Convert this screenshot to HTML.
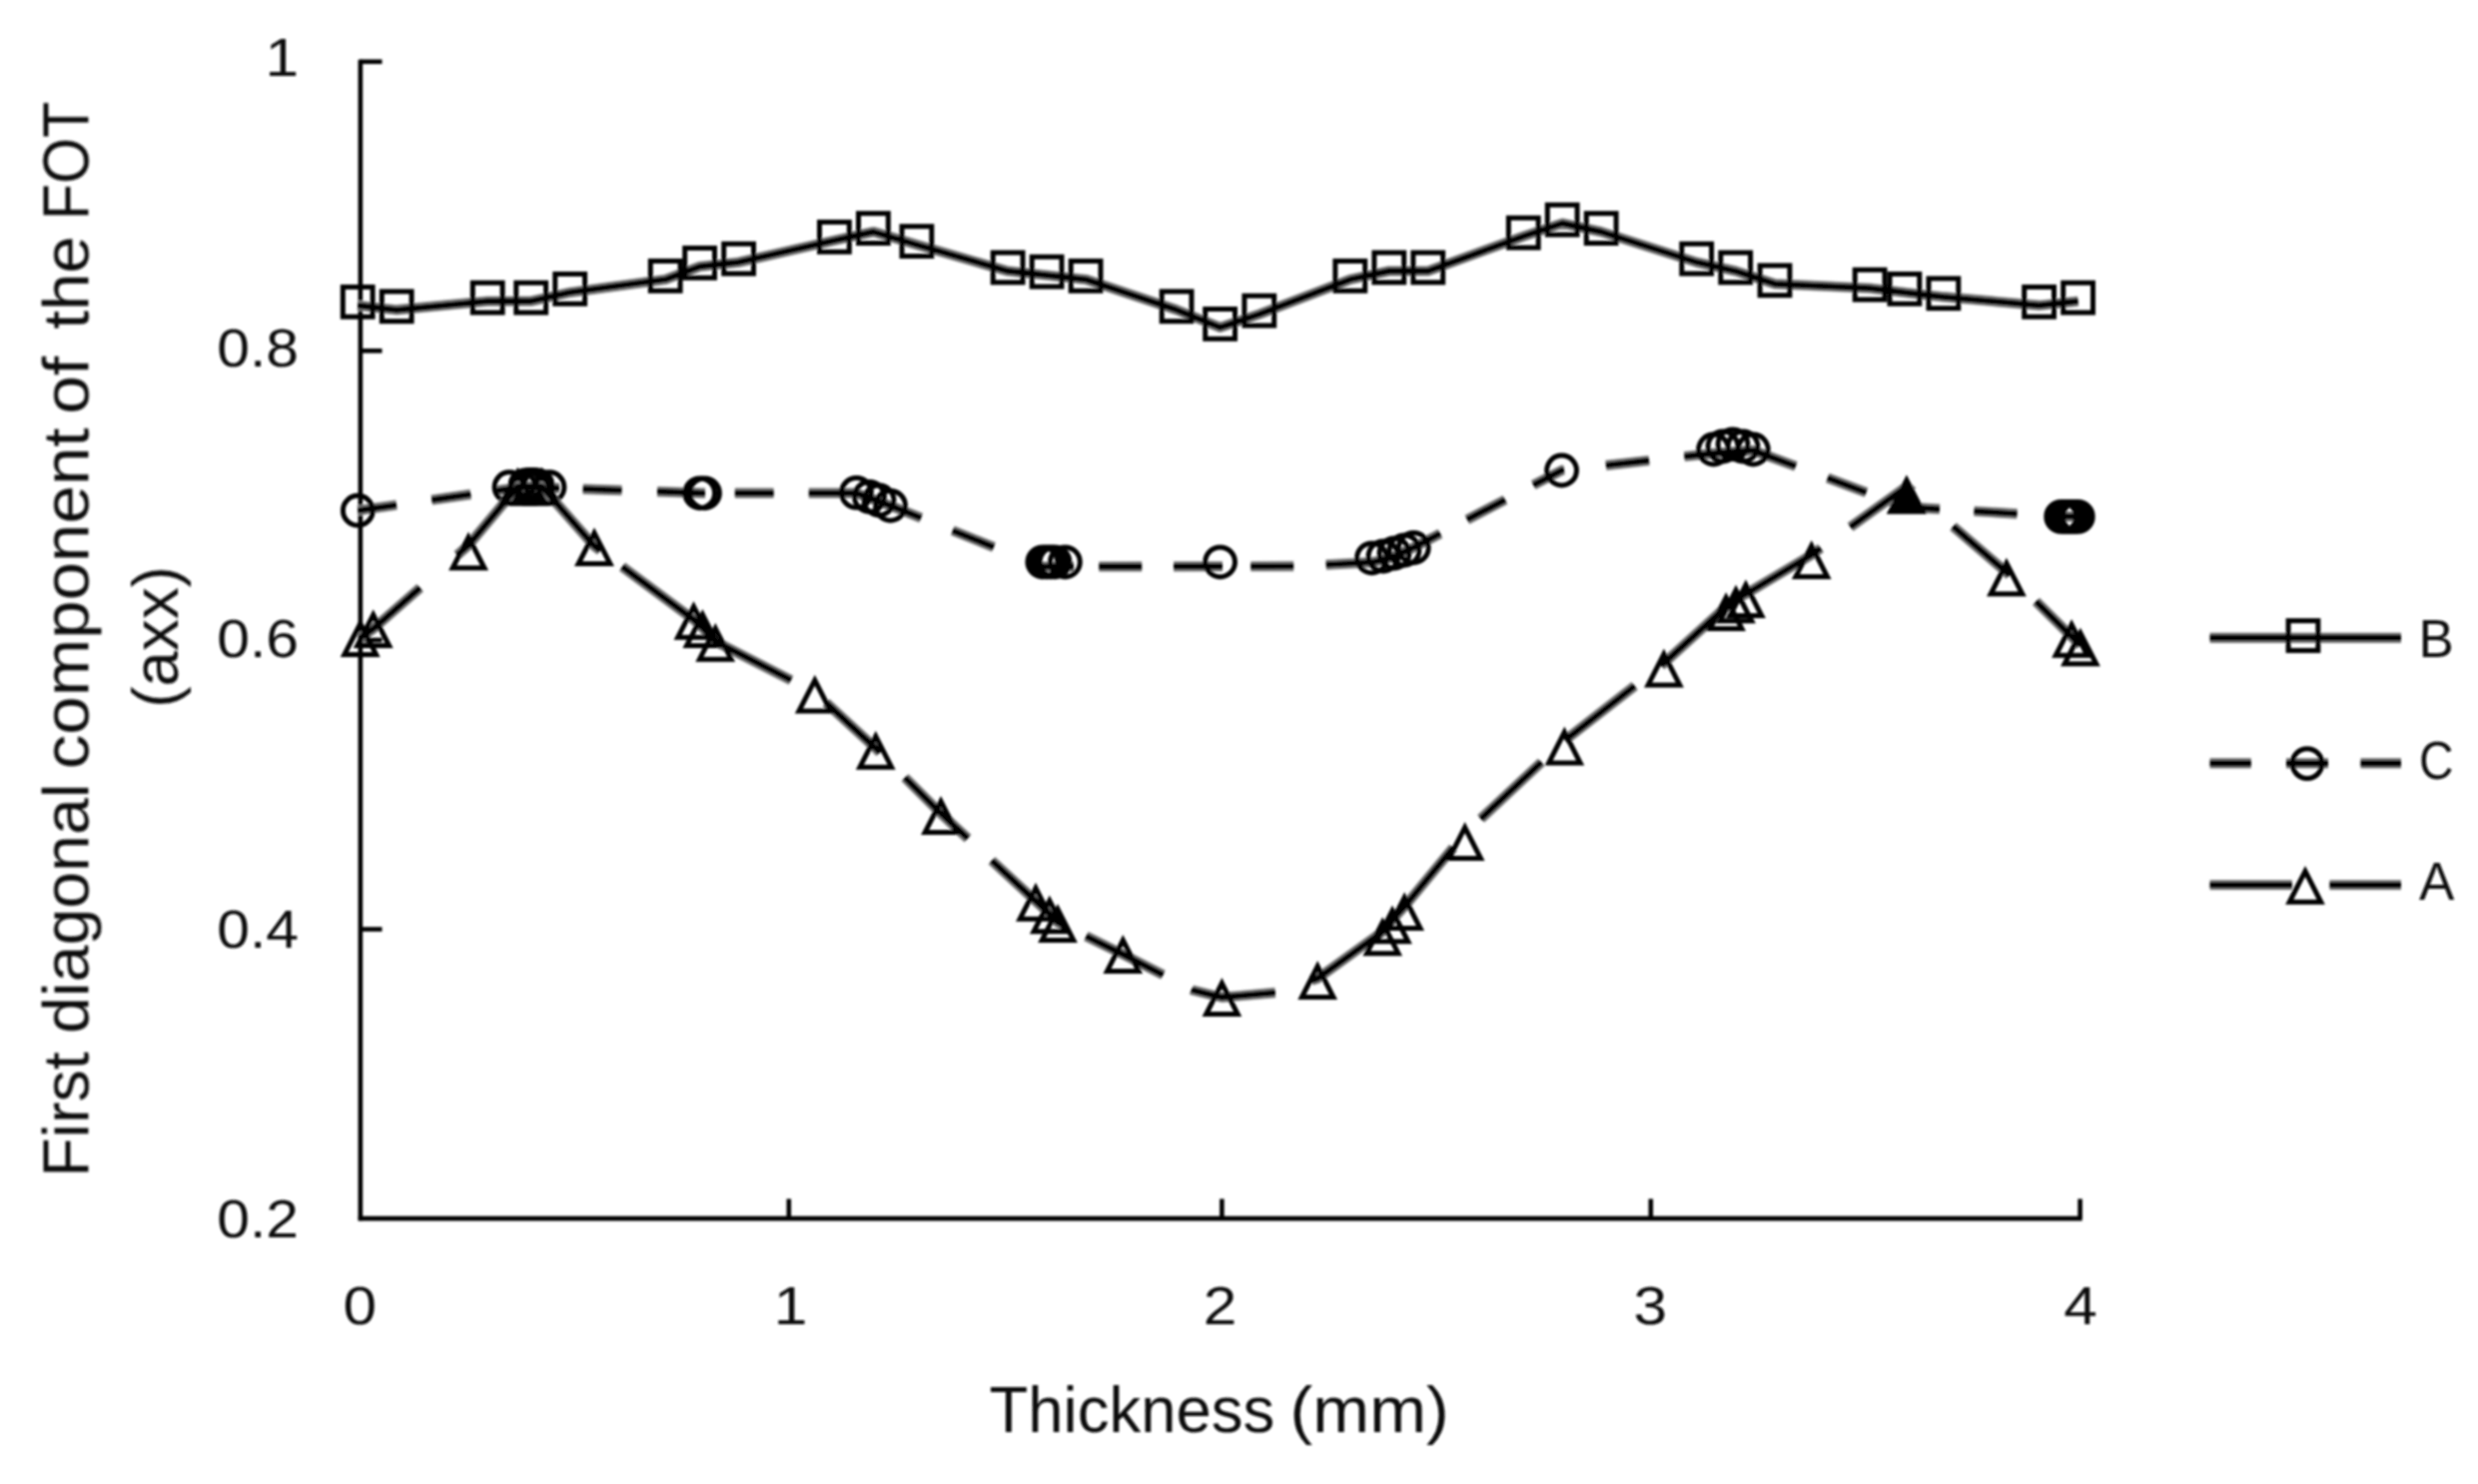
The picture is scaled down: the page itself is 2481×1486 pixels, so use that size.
<!DOCTYPE html>
<html lang="en">
<head>
<meta charset="utf-8">
<title>First diagonal component of the FOT vs thickness</title>
<style>
html,body{margin:0;padding:0;background:#fff;}
body{width:2481px;height:1486px;overflow:hidden;}
svg{display:block;}
</style>
</head>
<body>
<svg width="2481" height="1486" viewBox="0 0 2481 1486">
<defs><filter id="soft" filterUnits="userSpaceOnUse" x="0" y="0" width="2481" height="1486"><feGaussianBlur stdDeviation="0.9"/></filter></defs>
<rect width="2481" height="1486" fill="#fff"/>
<g filter="url(#soft)">
<g stroke="#000" stroke-width="4.6" fill="none" stroke-linecap="butt">
<path d="M360.85 59.65 V1222.2"/>
<path d="M358.75 1220.1 H2084.7"/>
<path d="M360 61.75 H382.5"/>
<path d="M360 351.3 H382.5"/>
<path d="M360 640.9 H382.5"/>
<path d="M360 930.5 H382.5"/>
<path d="M789.8 1200.5 V1220"/>
<path d="M1223.4 1200.5 V1220"/>
<path d="M1652.8 1200.5 V1220"/>
<path d="M2082.6 1200.5 V1220"/>
</g>
<g stroke="#000" fill="none">
<path stroke="#808080" stroke-width="10.4" stroke-linejoin="round" d="M358.2 305.8 L397.2 310.3 L488.2 301.6 L531.7 301.6 L570.7 292.8 L666.2 279.8 L700.6 266.8 L739.6 262.6 L835.4 240.8 L874.4 232.1 L917.9 245.1 L1009.1 271.4 L1048.1 275.6 L1087.1 279.8 L1178.1 310.3 L1221.6 327.9 L1260.8 314.6 L1351.8 279.8 L1390.8 271.4 L1429.8 271.4 L1525.3 236.6 L1564.2 223.6 L1603.2 232.1 L1698.7 262.6 L1737.7 271.4 L1777 284.3 L1872.1 288.6 L1906.9 292.8 L1945.9 297.3 L2041.6 305.8 L2080.6 301.6"/><path stroke="#000" stroke-width="6.2" stroke-linejoin="round" d="M358.2 305.8 L397.2 310.3 L488.2 301.6 L531.7 301.6 L570.7 292.8 L666.2 279.8 L700.6 266.8 L739.6 262.6 L835.4 240.8 L874.4 232.1 L917.9 245.1 L1009.1 271.4 L1048.1 275.6 L1087.1 279.8 L1178.1 310.3 L1221.6 327.9 L1260.8 314.6 L1351.8 279.8 L1390.8 271.4 L1429.8 271.4 L1525.3 236.6 L1564.2 223.6 L1603.2 232.1 L1698.7 262.6 L1737.7 271.4 L1777 284.3 L1872.1 288.6 L1906.9 292.8 L1945.9 297.3 L2041.6 305.8 L2080.6 301.6"/>
<g stroke-width="5.0"><rect x="343.3" y="287.4" width="29.8" height="29.8"/><rect x="382.3" y="291.9" width="29.8" height="29.8"/><rect x="473.3" y="283.2" width="29.8" height="29.8"/><rect x="516.8" y="283.2" width="29.8" height="29.8"/><rect x="555.8" y="274.4" width="29.8" height="29.8"/><rect x="651.3" y="261.4" width="29.8" height="29.8"/><rect x="685.7" y="248.4" width="29.8" height="29.8"/><rect x="724.7" y="244.2" width="29.8" height="29.8"/><rect x="820.5" y="222.4" width="29.8" height="29.8"/><rect x="859.5" y="213.7" width="29.8" height="29.8"/><rect x="903.0" y="226.7" width="29.8" height="29.8"/><rect x="994.2" y="253.0" width="29.8" height="29.8"/><rect x="1033.2" y="257.2" width="29.8" height="29.8"/><rect x="1072.2" y="261.4" width="29.8" height="29.8"/><rect x="1163.2" y="291.9" width="29.8" height="29.8"/><rect x="1206.7" y="309.5" width="29.8" height="29.8"/><rect x="1245.9" y="296.2" width="29.8" height="29.8"/><rect x="1336.9" y="261.4" width="29.8" height="29.8"/><rect x="1375.9" y="253.0" width="29.8" height="29.8"/><rect x="1414.9" y="253.0" width="29.8" height="29.8"/><rect x="1510.4" y="218.2" width="29.8" height="29.8"/><rect x="1549.3" y="205.2" width="29.8" height="29.8"/><rect x="1588.3" y="213.7" width="29.8" height="29.8"/><rect x="1683.8" y="244.2" width="29.8" height="29.8"/><rect x="1722.8" y="253.0" width="29.8" height="29.8"/><rect x="1762.1" y="265.9" width="29.8" height="29.8"/><rect x="1857.2" y="270.2" width="29.8" height="29.8"/><rect x="1892.0" y="274.4" width="29.8" height="29.8"/><rect x="1931.0" y="278.9" width="29.8" height="29.8"/><rect x="2026.7" y="287.4" width="29.8" height="29.8"/><rect x="2065.7" y="283.2" width="29.8" height="29.8"/></g>
</g>
<g stroke="#000" fill="none">
<path stroke="#808080" stroke-width="10.4" stroke-linejoin="round" d="M358.3 511.2 L397.0 505.7 M432.3 500.6 L471.3 495.0 M498.0 491.2 L510.0 489.5 L550.0 488.5 L560.0 488.8 M583.7 489.7 L622.5 491.0 M658.1 492.2 L703.0 493.8 L706.0 493.8 M735.8 493.8 L774.6 493.8 M809.8 493.8 L857.5 493.8 L891.5 506.3 L922.2 518.6 M953.8 531.3 L995.0 547.9 M1030.0 562.0 L1043.8 567.5 L1075.0 567.4 M1100.3 567.4 L1143.2 567.3 M1175.1 567.2 L1224.0 567.1 M1252.3 567.1 L1295.2 567.0 M1327.7 565.5 L1374.3 563.0 L1393.0 558.5 L1415.3 548.2 L1442.0 534.3 M1468.9 520.3 L1507.0 500.5 M1535.3 485.7 L1563.6 471.0 L1566.0 470.7 M1607.9 466.0 L1651.1 461.2 M1686.4 457.2 L1715.4 454.0 L1754.9 451.0 L1797.9 466.9 M1829.8 478.7 L1868.5 493.1 M1889.0 500.7 L1908.0 507.7 L1942.0 509.8 M1976.5 511.9 L2019.5 514.5 M2050.0 516.4 L2062.8 517.2 L2081.2 517.2"/><path stroke="#000" stroke-width="6.2" stroke-linejoin="round" d="M358.3 511.2 L397.0 505.7 M432.3 500.6 L471.3 495.0 M498.0 491.2 L510.0 489.5 L550.0 488.5 L560.0 488.8 M583.7 489.7 L622.5 491.0 M658.1 492.2 L703.0 493.8 L706.0 493.8 M735.8 493.8 L774.6 493.8 M809.8 493.8 L857.5 493.8 L891.5 506.3 L922.2 518.6 M953.8 531.3 L995.0 547.9 M1030.0 562.0 L1043.8 567.5 L1075.0 567.4 M1100.3 567.4 L1143.2 567.3 M1175.1 567.2 L1224.0 567.1 M1252.3 567.1 L1295.2 567.0 M1327.7 565.5 L1374.3 563.0 L1393.0 558.5 L1415.3 548.2 L1442.0 534.3 M1468.9 520.3 L1507.0 500.5 M1535.3 485.7 L1563.6 471.0 L1566.0 470.7 M1607.9 466.0 L1651.1 461.2 M1686.4 457.2 L1715.4 454.0 L1754.9 451.0 L1797.9 466.9 M1829.8 478.7 L1868.5 493.1 M1889.0 500.7 L1908.0 507.7 L1942.0 509.8 M1976.5 511.9 L2019.5 514.5 M2050.0 516.4 L2062.8 517.2 L2081.2 517.2"/>
<g stroke-width="5.0"><circle cx="358.3" cy="511.2" r="14.9"/><circle cx="510.0" cy="487.7" r="14.9"/><circle cx="526.0" cy="485.8" r="14.9"/><circle cx="530.0" cy="485.5" r="14.9"/><circle cx="534.0" cy="485.5" r="14.9"/><circle cx="538.0" cy="485.8" r="14.9"/><circle cx="550.0" cy="487.7" r="14.9"/><circle cx="700.7" cy="493.8" r="14.9"/><circle cx="705.5" cy="493.8" r="14.9"/><circle cx="857.5" cy="493.4" r="14.9"/><circle cx="870.5" cy="497.4" r="14.9"/><circle cx="880.0" cy="501.0" r="14.9"/><circle cx="891.5" cy="506.3" r="14.9"/><circle cx="1043.8" cy="562.8" r="14.9"/><circle cx="1048.0" cy="562.8" r="14.9"/><circle cx="1052.0" cy="562.8" r="14.9"/><circle cx="1056.0" cy="562.8" r="14.9"/><circle cx="1066.4" cy="562.8" r="14.9"/><circle cx="1221.6" cy="562.8" r="14.9"/><circle cx="1373.5" cy="558.8" r="14.9"/><circle cx="1385.0" cy="557.0" r="14.9"/><circle cx="1396.0" cy="554.0" r="14.9"/><circle cx="1406.0" cy="551.0" r="14.9"/><circle cx="1415.3" cy="548.5" r="14.9"/><circle cx="1563.6" cy="471.0" r="14.9"/><circle cx="1715.6" cy="450.0" r="14.9"/><circle cx="1725.0" cy="447.0" r="14.9"/><circle cx="1735.0" cy="444.8" r="14.9"/><circle cx="1745.0" cy="447.0" r="14.9"/><circle cx="1755.3" cy="450.0" r="14.9"/><circle cx="2063.7" cy="517.4" r="14.9"/><circle cx="2068.0" cy="517.4" r="14.9"/><circle cx="2072.0" cy="517.4" r="14.9"/><circle cx="2076.0" cy="517.4" r="14.9"/><circle cx="2080.3" cy="517.4" r="14.9"/></g>
</g>
<g stroke="#000" fill="none">
<path stroke="#808080" stroke-width="10.4" stroke-linejoin="round" d="M360.7 638.6 L373.7 629.7 L420.6 588.6 M457.8 555.9 L469.1 546.0 L518.2 487.3 L530.0 487.3 L542.5 487.3 L595.0 546.8 L601.0 551.2 M623.0 567.5 L694.5 620.5 L703.4 628.6 L716.3 642.4 L792.0 681.1 M827.0 703.6 L876.8 749.4 L881.0 753.6 M906.0 778.6 L942.0 814.6 L969.0 839.6 M993.0 861.7 L1037.0 902.4 L1050.8 915.0 L1059.0 923.6 L1064.0 926.1 M1087.4 937.5 L1124.3 955.6 L1164.5 976.2 M1193.0 990.8 L1195.0 991.8 L1223.4 998.7 L1276.8 994.0 M1313.0 981.8 L1319.2 979.7 L1384.2 932.9 L1394.0 921.0 L1406.2 907.8 L1455.0 848.8 M1482.6 819.9 L1543.3 763.2 M1567.0 741.2 L1636.7 686.9 M1663.0 666.4 L1665.9 664.1 L1728.1 607.6 L1738.0 600.0 L1747.9 594.8 L1813.7 555.6 L1823.0 548.9 M1852.6 527.7 L1908.9 487.3 L1915.0 492.5 M1955.5 527.2 L2008.9 573.0 L2012.0 576.1 M2038.5 602.3 L2074.1 637.5 L2082.9 646.0"/><path stroke="#000" stroke-width="6.2" stroke-linejoin="round" d="M360.7 638.6 L373.7 629.7 L420.6 588.6 M457.8 555.9 L469.1 546.0 L518.2 487.3 L530.0 487.3 L542.5 487.3 L595.0 546.8 L601.0 551.2 M623.0 567.5 L694.5 620.5 L703.4 628.6 L716.3 642.4 L792.0 681.1 M827.0 703.6 L876.8 749.4 L881.0 753.6 M906.0 778.6 L942.0 814.6 L969.0 839.6 M993.0 861.7 L1037.0 902.4 L1050.8 915.0 L1059.0 923.6 L1064.0 926.1 M1087.4 937.5 L1124.3 955.6 L1164.5 976.2 M1193.0 990.8 L1195.0 991.8 L1223.4 998.7 L1276.8 994.0 M1313.0 981.8 L1319.2 979.7 L1384.2 932.9 L1394.0 921.0 L1406.2 907.8 L1455.0 848.8 M1482.6 819.9 L1543.3 763.2 M1567.0 741.2 L1636.7 686.9 M1663.0 666.4 L1665.9 664.1 L1728.1 607.6 L1738.0 600.0 L1747.9 594.8 L1813.7 555.6 L1823.0 548.9 M1852.6 527.7 L1908.9 487.3 L1915.0 492.5 M1955.5 527.2 L2008.9 573.0 L2012.0 576.1 M2038.5 602.3 L2074.1 637.5 L2082.9 646.0"/>
<g stroke-width="5.0" stroke-linejoin="miter"><path d="M360.7 624.5 L376.6 655.4 L344.8 655.4 Z"/><path d="M373.7 615.6 L389.6 646.5 L357.8 646.5 Z"/><path d="M469.1 537.9 L485.0 568.8 L453.2 568.8 Z"/><path d="M518.2 473.2 L534.1 504.1 L502.4 504.1 Z"/><path d="M530.0 473.2 L545.9 504.1 L514.1 504.1 Z"/><path d="M542.5 473.2 L558.4 504.1 L526.6 504.1 Z"/><path d="M595.0 533.7 L610.9 564.6 L579.1 564.6 Z"/><path d="M694.5 607.4 L710.4 638.3 L678.6 638.3 Z"/><path d="M703.4 615.5 L719.2 646.4 L687.5 646.4 Z"/><path d="M716.3 629.3 L732.1 660.2 L700.4 660.2 Z"/><path d="M815.8 681.2 L831.6 712.1 L799.9 712.1 Z"/><path d="M876.8 737.3 L892.6 768.2 L860.9 768.2 Z"/><path d="M942.0 802.5 L957.9 833.4 L926.1 833.4 Z"/><path d="M1037.0 889.3 L1052.8 920.2 L1021.1 920.2 Z"/><path d="M1050.8 901.9 L1066.6 932.8 L1035.0 932.8 Z"/><path d="M1059.0 910.5 L1074.8 941.4 L1043.2 941.4 Z"/><path d="M1124.3 941.5 L1140.1 972.4 L1108.5 972.4 Z"/><path d="M1223.4 984.6 L1239.2 1015.5 L1207.6 1015.5 Z"/><path d="M1319.2 967.6 L1335.0 998.5 L1303.4 998.5 Z"/><path d="M1384.2 923.8 L1400.0 954.7 L1368.4 954.7 Z"/><path d="M1394.0 911.9 L1409.8 942.8 L1378.2 942.8 Z"/><path d="M1406.2 898.7 L1422.0 929.6 L1390.4 929.6 Z"/><path d="M1466.7 828.6 L1482.5 859.5 L1450.9 859.5 Z"/><path d="M1566.4 733.1 L1582.2 764.0 L1550.6 764.0 Z"/><path d="M1665.9 655.0 L1681.8 685.9 L1650.1 685.9 Z"/><path d="M1728.1 598.5 L1743.9 629.4 L1712.2 629.4 Z"/><path d="M1738.0 590.9 L1753.8 621.8 L1722.2 621.8 Z"/><path d="M1747.9 585.7 L1763.8 616.6 L1732.1 616.6 Z"/><path d="M1813.7 546.5 L1829.5 577.4 L1797.9 577.4 Z"/><path d="M1908.9 481.2 L1924.8 512.1 L1893.1 512.1 Z"/><path d="M2008.9 563.9 L2024.8 594.8 L1993.1 594.8 Z"/><path d="M2074.1 625.4 L2089.9 656.3 L2058.2 656.3 Z"/><path d="M2082.9 633.9 L2098.8 664.8 L2067.1 664.8 Z"/><g fill="#000"><path d="M1908.9 481.2 L1924.8 512.1 L1893.1 512.1 Z"/></g></g>
</g>
<g stroke="#000" fill="none">
<path stroke="#808080" stroke-width="10.4"  d="M2212.6 638.7 H2404"/><path stroke="#000" stroke-width="6.2"  d="M2212.6 638.7 H2404"/>
<g stroke-width="5.0"><rect x="2291.1" y="621.6" width="29.8" height="29.8"/></g>
<path stroke="#808080" stroke-width="10.4"  d="M2212.6 764.3 H2253.8 M2289 764.3 H2331 M2363.5 764.3 H2404"/><path stroke="#000" stroke-width="6.2"  d="M2212.6 764.3 H2253.8 M2289 764.3 H2331 M2363.5 764.3 H2404"/>
<g stroke-width="5.0"><circle cx="2310.0" cy="764.6" r="14.9"/></g>
<path stroke="#808080" stroke-width="10.4"  d="M2212.6 886.1 H2294.8 M2332.5 886.1 H2404"/><path stroke="#000" stroke-width="6.2"  d="M2212.6 886.1 H2294.8 M2332.5 886.1 H2404"/>
<g stroke-width="5.0"><path d="M2308.0 872.4 L2323.8 903.3 L2292.2 903.3 Z"/></g>
</g>
<g fill="#111" font-family="'Liberation Sans', sans-serif">
<text x="299" y="76.3" font-size="53" text-anchor="end" textLength="33.6" lengthAdjust="spacingAndGlyphs" >1</text>
<text x="299" y="367.4" font-size="53" text-anchor="end" textLength="81.8" lengthAdjust="spacingAndGlyphs" >0.8</text>
<text x="299" y="657.7" font-size="53" text-anchor="end" textLength="81.8" lengthAdjust="spacingAndGlyphs" >0.6</text>
<text x="299" y="948.6" font-size="53" text-anchor="end" textLength="81.8" lengthAdjust="spacingAndGlyphs" >0.4</text>
<text x="299" y="1239.2" font-size="53" text-anchor="end" textLength="81.8" lengthAdjust="spacingAndGlyphs" >0.2</text>
<text x="360.2" y="1326.3" font-size="53" text-anchor="middle" textLength="33.6" lengthAdjust="spacingAndGlyphs" >0</text>
<text x="791.5" y="1326.3" font-size="53" text-anchor="middle" textLength="33.6" lengthAdjust="spacingAndGlyphs" >1</text>
<text x="1221.6" y="1326.3" font-size="53" text-anchor="middle" textLength="33.6" lengthAdjust="spacingAndGlyphs" >2</text>
<text x="1652.4" y="1326.3" font-size="53" text-anchor="middle" textLength="33.6" lengthAdjust="spacingAndGlyphs" >3</text>
<text x="2083" y="1326.3" font-size="53" text-anchor="middle" textLength="33.6" lengthAdjust="spacingAndGlyphs" >4</text>
<text x="2421.5" y="657.6" font-size="53" text-anchor="start" >B</text>
<text x="2422" y="779.5" font-size="53" text-anchor="start" textLength="34.5" lengthAdjust="spacingAndGlyphs">C</text>
<text x="2422" y="901" font-size="53" text-anchor="start" >A</text>
<text transform="translate(88.5 1173.7) rotate(-90)" font-size="65"><tspan x="-5.0" textLength="125.3" lengthAdjust="spacingAndGlyphs">First</tspan> <tspan x="138.7" textLength="250.6" lengthAdjust="spacingAndGlyphs">diagonal</tspan> <tspan x="403.5" textLength="341.8" lengthAdjust="spacingAndGlyphs">component</tspan> <tspan x="758.9" textLength="58.0" lengthAdjust="spacingAndGlyphs">of</tspan> <tspan x="844.0" textLength="93.5" lengthAdjust="spacingAndGlyphs">the</tspan> <tspan x="953.6" textLength="118.3" lengthAdjust="spacingAndGlyphs">FOT</tspan></text>
<text transform="translate(178 704.7) rotate(-90)" font-size="65"><tspan x="-3.9" textLength="141.7" lengthAdjust="spacingAndGlyphs">(axx)</tspan></text>
<text y="1434.4" font-size="65"><tspan x="990.5" textLength="285.7" lengthAdjust="spacingAndGlyphs">Thickness</tspan> <tspan x="1291.6" textLength="159.1" lengthAdjust="spacingAndGlyphs">(mm)</tspan></text>
</g>
</g>
</svg>
</body>
</html>
